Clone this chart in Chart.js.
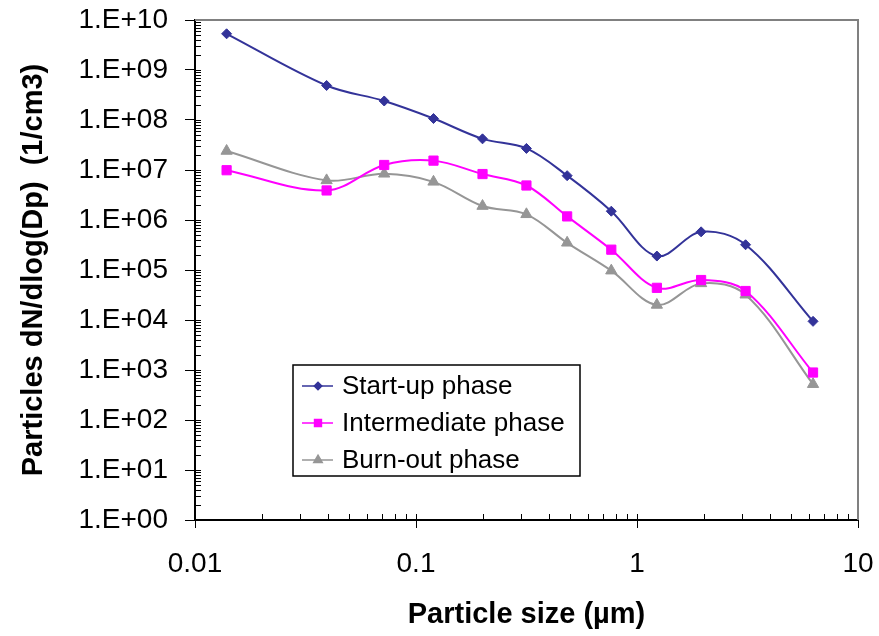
<!DOCTYPE html>
<html>
<head>
<meta charset="utf-8">
<script src="https://cdn.jsdelivr.net/npm/chart.js@4.4.0/dist/chart.umd.min.js"></script>
<style>
  html, body { margin: 0; padding: 0; background: #fff; }
</style>
</head>
<body>
<canvas id="framus" width="879" height="636"></canvas>
<script>
// particle size channels (µm) and the three burn phases
const sizes = [0.0139, 0.0394, 0.0718, 0.120, 0.200, 0.316, 0.483, 0.765, 1.23, 1.95, 3.10, 6.26];
const startUp = [5.3e9, 4.9e8, 2.4e8, 1.07e8, 4.2e7, 2.7e7, 7.7e6, 1.5e6, 1.9e5, 5.8e5, 3.2e5, 9.4e3];
const intermediate = [9.9e6, 3.9e6, 1.26e7, 1.54e7, 8.3e6, 4.9e6, 1.18e6, 2.55e5, 4.4e4, 6.3e4, 3.8e4, 8.9e2];
const burnOut = [2.4e7, 6.2e6, 8.4e6, 5.8e6, 1.9e6, 1.3e6, 3.5e5, 9.7e4, 2.0e4, 5.4e4, 3.2e4, 5.2e2];

const seriesNames = ['Start-up phase', 'Intermediate phase', 'Burn-out phase'];

const xTickValues = [0.01, 0.1, 1, 10];
const xTickLabels = ['0.01', '0.1', '1', '10'];
const yTickLabels = ['1.E+00', '1.E+01', '1.E+02', '1.E+03', '1.E+04', '1.E+05',
                     '1.E+06', '1.E+07', '1.E+08', '1.E+09', '1.E+10'];

const FONT = '"Liberation Sans", Arial, sans-serif';

function pairs(ys) {
    return sizes.map((s, i) => ({ x: s, y: ys[i] }));
}

// minor ticks inside the plot + grey frame on top/right (Excel look)
const frameTicks = {
    id: 'frameTicks',
    beforeDatasetsDraw(chart) {
        const { ctx, chartArea: a, scales: { x, y } } = chart;
        ctx.save();
        ctx.strokeStyle = '#808080';
        ctx.lineWidth = 2;
        ctx.beginPath();
        ctx.moveTo(a.left, a.top);
        ctx.lineTo(a.right, a.top);
        ctx.lineTo(a.right, a.bottom);
        ctx.stroke();

        ctx.strokeStyle = '#000';
        ctx.lineWidth = 1;
        ctx.beginPath();
        for (let e = 0; e < yTickLabels.length - 1; e++) {
            for (let m = 1; m <= 9; m++) {
                const py = Math.round(y.getPixelForValue(m * Math.pow(10, e))) + 0.5;
                ctx.moveTo(a.left, py);
                ctx.lineTo(a.left + 6, py);
            }
        }
        for (let i = 0; i < xTickValues.length - 1; i++) {
            for (let m = 1; m <= 9; m++) {
                const px = Math.round(x.getPixelForValue(m * xTickValues[i])) + 0.5;
                ctx.moveTo(px, a.bottom);
                ctx.lineTo(px, a.bottom - 6);
            }
        }
        ctx.stroke();
        ctx.restore();
    }
};

// boxed legend sitting inside the plot
const boxLegend = {
    id: 'boxLegend',
    afterDraw(chart) {
        const ctx = chart.ctx;
        const left = 293, top = 365, w = 287, h = 111, rowH = 37;
        ctx.save();
        ctx.fillStyle = '#fff';
        ctx.fillRect(left, top, w, h);
        ctx.strokeStyle = '#000';
        ctx.lineWidth = 1.5;
        ctx.strokeRect(left, top, w, h);
        ctx.font = '26px ' + FONT;
        ctx.textBaseline = 'middle';
        chart.data.datasets.forEach((ds, i) => {
            const cy = top + 21 + i * rowH;
            ctx.strokeStyle = ds.borderColor;
            ctx.fillStyle = ds.backgroundColor;
            ctx.lineWidth = 1.5;
            ctx.beginPath();
            ctx.moveTo(left + 9, cy);
            ctx.lineTo(left + 40, cy);
            ctx.stroke();
            Chart.helpers.drawPoint(ctx, {
                pointStyle: ds.pointStyle, rotation: 0,
                radius: ds.pointRadius * 0.75, borderWidth: 1
            }, left + 25, cy);
            ctx.fillStyle = '#000';
            ctx.fillText(ds.label, left + 49, cy + 1);
        });
        ctx.restore();
    }
};

function makeSet(label, ys, color, style, r) {
    return {
        label: label,
        data: pairs(ys),
        borderColor: color,
        backgroundColor: color,
        borderWidth: 2,
        pointStyle: style,
        pointRadius: r,
        pointBorderWidth: 1,
        tension: 0.35
    };
}

const mycanvas = document.getElementById('framus');
new Chart(mycanvas, {
    type: 'line',
    data: {
        datasets: [
            makeSet(seriesNames[0], startUp, '#333399', 'rectRot', 5),
            makeSet(seriesNames[1], intermediate, '#FF00FF', 'rect', 6.5),
            makeSet(seriesNames[2], burnOut, '#969696', 'triangle', 6.5)
        ]
    },
    options: {
        responsive: false,
        animation: false,
        layout: { padding: { top: 20, right: 21, left: 0, bottom: 0 } },
        plugins: { legend: { display: false }, tooltip: { enabled: false } },
        scales: {
            x: {
                type: 'logarithmic',
                min: 0.01, max: 10,
                afterBuildTicks: s => { s.ticks = xTickValues.map(v => ({ value: v })); },
                afterFit: s => { s.height = 116; s.paddingLeft = 0; s.paddingRight = 0; },
                ticks: {
                    autoSkip: false, maxRotation: 0, padding: 19,
                    color: '#000', font: { family: FONT, size: 28 },
                    callback: (v, i) => xTickLabels[i]
                },
                grid: { drawOnChartArea: false, drawTicks: true, tickLength: 8, color: '#000', tickColor: '#000' },
                border: { display: true, color: '#000', width: 2 },
                title: {
                    display: true, text: 'Particle size (µm)', color: '#000',
                    font: { family: FONT, size: 29, weight: 'bold' },
                    padding: { top: 0, bottom: 4 }
                }
            },
            y: {
                type: 'logarithmic',
                min: 1, max: 1e10,
                afterBuildTicks: s => { s.ticks = yTickLabels.map((l, i) => ({ value: Math.pow(10, i) })); },
                afterFit: s => { s.width = 195; s.paddingTop = 0; s.paddingBottom = 0; },
                ticks: {
                    autoSkip: false, padding: 17,
                    color: '#000', font: { family: FONT, size: 28 },
                    callback: (v, i) => yTickLabels[i]
                },
                grid: { drawOnChartArea: false, drawTicks: true, tickLength: 10, color: '#000', tickColor: '#000' },
                border: { display: true, color: '#000', width: 2 },
                title: {
                    display: true, text: 'Particles dN/dlog(Dp)  (1/cm3)', color: '#000',
                    font: { family: FONT, size: 29, weight: 'bold' },
                    padding: { top: 17, bottom: 0 }
                }
            }
        }
    },
    plugins: [frameTicks, boxLegend]
});
</script>
</body>
</html>
